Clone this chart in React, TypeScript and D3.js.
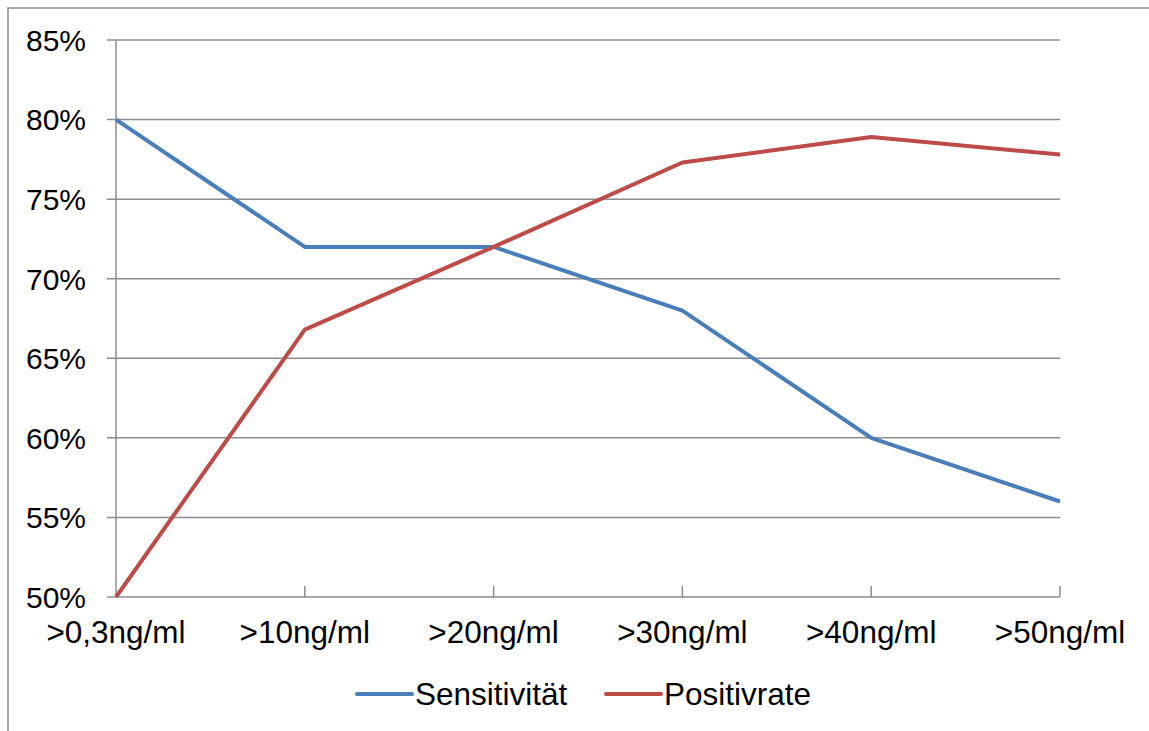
import React from "react";
import * as d3 from "d3";

const categories = [">0,3ng/ml", ">10ng/ml", ">20ng/ml", ">30ng/ml", ">40ng/ml", ">50ng/ml"];
const sensitivitaet = [80, 72, 72, 68, 60, 56];
const positivrate = [50, 66.8, 72, 77.3, 78.9, 77.8];
const yTicks = [50, 55, 60, 65, 70, 75, 80, 85];
const seriesNames = ["Sensitivität", "Positivrate"];

const W = 1149;
const H = 731;
const FONT = "'Liberation Sans', Arial, sans-serif";
const BLUE = "#4A7EBB";
const RED = "#BE4B48";
const GRID = "#8c8c8c";

export default function App() {
  const left = 116;
  const right = 1060;
  const top = 40;
  const bottom = 597;

  const x = d3.scalePoint<string>().domain(categories).range([left, right]);
  const y = d3.scaleLinear().domain([50, 85]).range([bottom, top]);

  const line = d3
    .line<number>()
    .x((_, i) => x(categories[i]) as number)
    .y((d) => y(d));

  const series = [
    { name: seriesNames[0], values: sensitivitaet, color: BLUE },
    { name: seriesNames[1], values: positivrate, color: RED },
  ];

  return (
    <svg
      width={W}
      height={H}
      style={{ position: "absolute", left: 0, top: 0, background: "#fff" }}
      fontFamily={FONT}
    >
      {/* outer chart frame */}
      <rect x={8} y={8} width={W + 20} height={H + 20} fill="none" stroke="#8a8a8a" strokeWidth={1.5} />

      {/* horizontal gridlines with outer tick stubs */}
      {yTicks.map((t) => (
        <line key={t} x1={left - 9} x2={right} y1={y(t)} y2={y(t)} stroke={GRID} strokeWidth={1.5} />
      ))}

      {/* y axis */}
      <line x1={left} x2={left} y1={top} y2={bottom} stroke={GRID} strokeWidth={1.5} />

      {/* category ticks pointing into the plot */}
      {categories.slice(1).map((c) => (
        <line key={c} x1={x(c)} x2={x(c)} y1={bottom} y2={bottom - 11} stroke={GRID} strokeWidth={1.5} />
      ))}

      {/* y tick labels */}
      {yTicks.map((t) => (
        <text key={t} x={86} y={y(t)} dy="0.36em" textAnchor="end" fontSize={30} fill="#000">
          {`${t}%`}
        </text>
      ))}

      {/* x tick labels */}
      {categories.map((c) => (
        <text key={c} x={x(c)} y={643} textAnchor="middle" fontSize={31.5} fill="#000">
          {c}
        </text>
      ))}

      {/* series lines */}
      {series.map((s) => (
        <path
          key={s.name}
          d={line(s.values) ?? ""}
          fill="none"
          stroke={s.color}
          strokeWidth={4}
          strokeLinejoin="round"
          strokeLinecap="butt"
        />
      ))}

      {/* legend */}
      {series.map((s, i) => {
        const lx = i === 0 ? 357 : 606;
        return (
          <g key={s.name}>
            <line x1={lx} x2={lx + 55} y1={694} y2={694} stroke={s.color} strokeWidth={4} strokeLinecap="round" />
            <text x={lx + 58} y={694} dy="0.36em" fontSize={31.5} fill="#000">
              {s.name}
            </text>
          </g>
        );
      })}
    </svg>
  );
}
